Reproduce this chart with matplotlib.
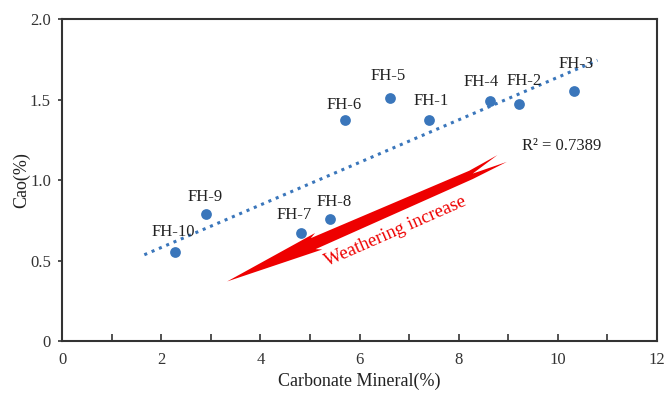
import numpy as np
import matplotlib
matplotlib.use('Agg')
import matplotlib.pyplot as plt
from matplotlib.patches import Polygon

plt.rcParams['font.family'] = ['Liberation Serif', 'DejaVu Serif']

# sample data
names = ['FH-1', 'FH-2', 'FH-3', 'FH-4', 'FH-5', 'FH-6', 'FH-7', 'FH-8', 'FH-9', 'FH-10']
carbonate = [7.41, 9.21, 10.32, 8.63, 6.61, 5.70, 4.81, 5.41, 2.91, 2.28]
cao = [1.37, 1.47, 1.55, 1.49, 1.51, 1.37, 0.67, 0.76, 0.79, 0.55]
# label offsets in points (dx, dy), text centred
label_offsets = [(1.5, 14), (4, 16.5), (1.5, 19.5), (-6, 14), (-1.5, 16), (0, 11),
                 (-4.5, 13), (3, 12), (-1, 12), (-1.5, 14.5)]

trend_range = [1.66, 10.8]
r2_text = 'R² = 0.7389'
arrow_tail = (8.8, 1.11)   # forked tail centre
arrow_head = (3.33, 0.37)  # tip

x_ticks = [0, 2, 4, 6, 8, 10, 12]
y_ticks = [0, 0.5, 1.0, 1.5, 2.0]
y_ticklabels = ['0', '0.5', '1.0', '1.5', '2.0']

fig = plt.figure(figsize=(6.67, 3.97), dpi=100)
ax = fig.add_axes([0.093, 0.141, 0.892, 0.811])

blue = '#3a76bb'
ax.scatter(carbonate, cao, s=60, color=blue, zorder=3, linewidths=0)

# linear trend
k, b = np.polyfit(carbonate, cao, 1)
xt = np.linspace(trend_range[0], trend_range[1], 100)
ax.plot(xt, k * xt + b, linestyle=(0, (1, 1.6)), color=blue, linewidth=2.2, zorder=2)

for n, xv, yv, off in zip(names, carbonate, cao, label_offsets):
    ax.annotate(n, (xv, yv), xytext=off, textcoords='offset points',
                ha='center', va='center', fontsize=12, color='#222222')

ax.text(10.08, 1.21, r2_text, ha='center', va='center', fontsize=12, color='#222222')

ax.set_xlim(0, 12)
ax.set_ylim(0, 2.0)
ax.set_xticks(x_ticks)
ax.set_xticks(range(0, 13), minor=True)
ax.set_yticks(y_ticks)
ax.set_yticklabels(y_ticklabels)
ax.tick_params(axis='x', which='both', direction='in', length=5, width=1.2, labelsize=12, pad=8, colors='#333333')
ax.tick_params(axis='y', direction='out', length=3, width=1.2, labelsize=12, pad=5, colors='#333333')
ax.set_xlabel('Carbonate Mineral(%)', fontsize=13, color='#222222', labelpad=3)
ax.set_ylabel('Cao(%)', fontsize=13, color='#222222', labelpad=0)
for s in ax.spines.values():
    s.set_linewidth(1.5)
    s.set_color('#333333')

# red "weathering" arrow drawn in display space
fig.canvas.draw()
p_tip = ax.transData.transform(arrow_head)
p_tail = ax.transData.transform(arrow_tail)
u = (p_tail - p_tip) / np.linalg.norm(p_tail - p_tip)
nv = np.array([-u[1], u[0]])
L = np.linalg.norm(p_tail - p_tip)
pts = np.array([
    p_tip,
    p_tip + u * 100 + nv * 9,
    p_tip + u * 94 + nv * 6,
    p_tip + u * (L - 30) + nv * 4,
    p_tip + u * (L + 2) + nv * 7,
    p_tip + u * (L - 28) + nv * 0,
    p_tip + u * (L + 8) - nv * 3,
    p_tip + u * (L - 30) - nv * 5,
    p_tip + u * 94 - nv * 6,
    p_tip + u * 100 - nv * 9,
])
arrow = Polygon(ax.transData.inverted().transform(pts), closed=True,
                facecolor='#ee0000', edgecolor='none', transform=ax.transData, zorder=1)
ax.add_patch(arrow)

ang = np.degrees(np.arctan2(u[1], u[0]))
ax.text(6.73, 0.68, 'Weathering increase', color='#ee0000', fontsize=13.5,
        rotation=ang, rotation_mode='anchor', ha='center', va='center')

fig.savefig('out.png', dpi=100)
